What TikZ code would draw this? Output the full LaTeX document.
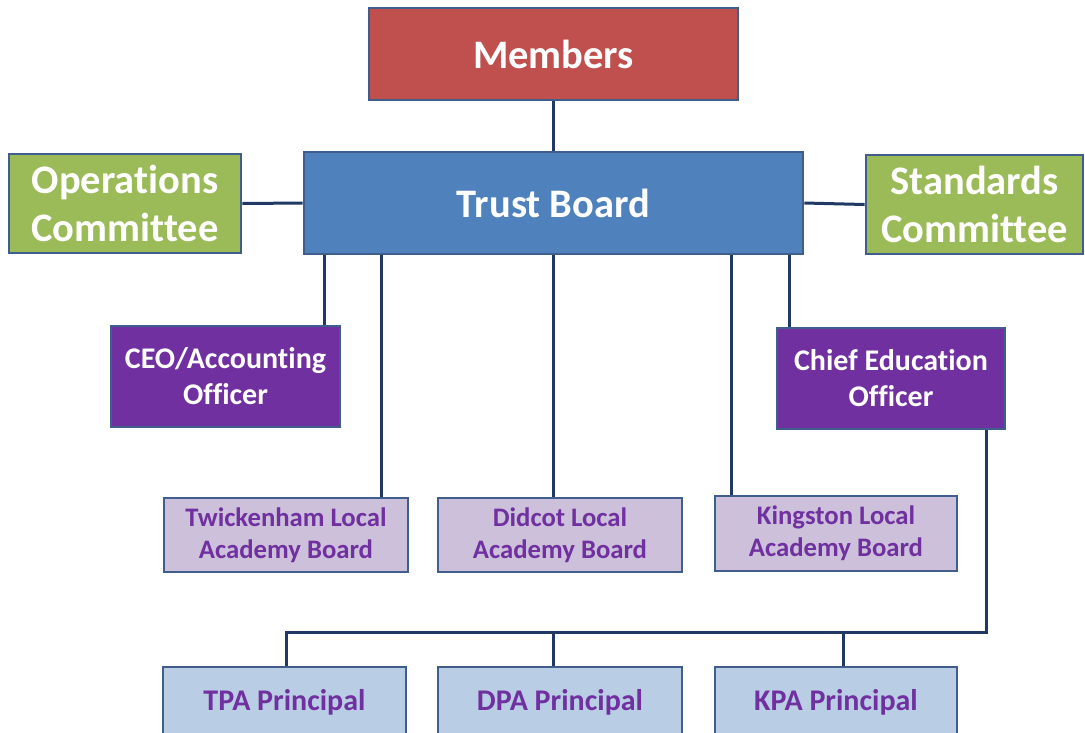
\documentclass[tikz,border=0pt]{standalone}
\usepackage{fontspec}
\setmainfont{Carlito}[Ligatures={NoCommon}]
\definecolor{memberred}{HTML}{C0504D}
\definecolor{boardblue}{HTML}{4F81BD}
\definecolor{commgreen}{HTML}{9BBB59}
\definecolor{officerpurple}{HTML}{7030A0}
\definecolor{lablilac}{HTML}{CCC0DA}
\definecolor{principalblue}{HTML}{B9CDE5}
\definecolor{edgeblue}{HTML}{3F5E8C}
\definecolor{linknavy}{HTML}{1F3864}
\tikzset{
  box/.style={draw=edgeblue, line width=2.8pt, inner sep=0pt, align=center, font=\bfseries},
  topbox/.style={box, text=white, font=\bfseries\fontsize{40.5}{48}\selectfont},
  officerbox/.style={box, fill=officerpurple, text=white, font=\bfseries\fontsize{30}{36}\selectfont},
  labbox/.style={box, fill=lablilac, text=officerpurple, font=\bfseries\fontsize{26.7}{32}\selectfont},
  principalbox/.style={box, fill=principalblue, text=officerpurple, font=\bfseries\fontsize{30}{34}\selectfont},
  link/.style={draw=linknavy, line width=3pt}
}
\begin{document}
\begin{tikzpicture}[x=1pt, y=-1pt]
\useasboundingbox (0,0) rectangle (1085,732);

% governance level
\node[topbox, fill=memberred, minimum width=369pt, minimum height=92pt] (members) at (553.5,54) {Members};
\node[topbox, fill=boardblue, minimum width=499pt, minimum height=102pt] (board) at (553.5,203) {Trust Board};
\node[topbox, fill=commgreen, minimum width=232pt, minimum height=99pt] (ops) at (125,203.5) {Operations\\Committee};
\node[topbox, fill=commgreen, minimum width=217pt, minimum height=99pt] (std) at (974.5,204.5) {Standards\\Committee};

% officers
\node[officerbox, minimum width=229pt, minimum height=101pt] (ceo) at (225.5,376.5) {CEO/Accounting\\Officer};
\node[officerbox, minimum width=228pt, minimum height=101pt] (ceduo) at (891,378.5) {Chief Education\\Officer};

% local academy boards
\node[labbox, minimum width=244pt, minimum height=74pt] (twick) at (286,535) {Twickenham Local\\Academy Board};
\node[labbox, minimum width=244pt, minimum height=74pt] (didcot) at (560,535) {Didcot Local\\Academy Board};
\node[labbox, minimum width=242pt, minimum height=75pt] (kingston) at (836,533.5) {Kingston Local\\Academy Board};

% principals
\node[principalbox, minimum width=243pt, minimum height=70pt] (tpa) at (284.5,702) {TPA Principal};
\node[principalbox, minimum width=244pt, minimum height=70pt] (dpa) at (560,702) {DPA Principal};
\node[principalbox, minimum width=242pt, minimum height=70pt] (kpa) at (836,702) {KPA Principal};

% x positions of the drop lines
\coordinate (xceo) at (324,0);
\coordinate (xtw) at (381,0);
\coordinate (xdi) at (553.5,0);
\coordinate (xki) at (731,0);
\coordinate (xce) at (789,0);
\coordinate (xcebot) at (986.5,0);
\coordinate (xtpa) at (286,0);
\coordinate (xkpa) at (843,0);
\coordinate (bus) at (0,632);

\draw[link] (members.south) -- (board.north);
\draw[link] (board.west) -- (ops.east);
\draw[link] (board.east) -- (std.west);
\draw[link] (board.south -| xceo) -- (ceo.north -| xceo);
\draw[link] (board.south -| xtw) -- (twick.north -| xtw);
\draw[link] (board.south -| xdi) -- (didcot.north -| xdi);
\draw[link] (board.south -| xki) -- (kingston.north -| xki);
\draw[link] (board.south -| xce) -- (ceduo.north -| xce);
\draw[link] (ceduo.south -| xcebot) -- (bus -| xcebot) -- (bus -| xtpa) -- (tpa.north -| xtpa);
\draw[link] (bus -| xdi) -- (dpa.north -| xdi);
\draw[link] (bus -| xkpa) -- (kpa.north -| xkpa);
\end{tikzpicture}
\end{document}
